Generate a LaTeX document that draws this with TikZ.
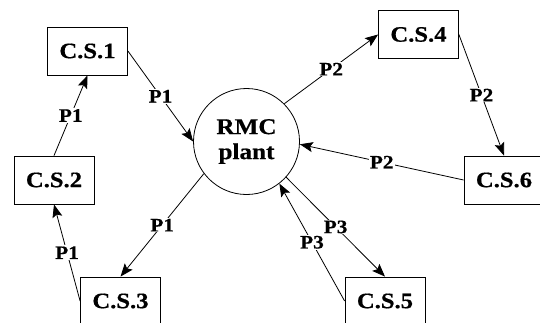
\documentclass[tikz,border=0pt]{standalone}
\usepackage{fontspec}
\setmainfont{Liberation Serif}
\newfontfamily\widefont[FakeStretch=1.12,FakeBold=0.6]{Liberation Serif}
\usetikzlibrary{arrows.meta}
\begin{document}
\begin{tikzpicture}[x=1pt,y=-1pt,
  station/.style={draw,line width=0.8pt,minimum width=80pt,minimum height=48pt,
    inner sep=0pt,font=\widefont\fontsize{22}{24}\selectfont\bfseries},
  plant/.style={draw,circle,line width=0.8pt,minimum size=106pt,inner sep=0pt,
    align=center,font=\widefont\fontsize{22.5}{25}\selectfont\bfseries},
  flow/.style={line width=0.8pt,-{Stealth[length=13pt,width=10pt,inset=2.5pt]}},
  tag/.style={fill=white,inner sep=1pt,font=\widefont\fontsize{19}{20}\selectfont\bfseries}]
\useasboundingbox (0,0) rectangle (540,322);
% plant and concrete sites
\node[plant] (rmc) at (246.5,141.5) {RMC\\plant};
\node[station] (cs1) at (87.5,51) {C.S.1};
\node[station] (cs2) at (54,180) {C.S.2};
\node[station] (cs3) at (120.5,301) {C.S.3};
\node[station] (cs4) at (418.5,34.5) {C.S.4};
\node[station] (cs5) at (385,301) {C.S.5};
\node[station] (cs6) at (504,180) {C.S.6};
% route P1
\draw[flow] (cs2.north) -- node[tag] {P1} (cs1.south);
\draw[flow] (cs1.east) -- node[tag] {P1} (rmc.180);
\draw[flow] (rmc.217) -- node[tag] {P1} (cs3.north);
\draw[flow] (cs3.west) -- node[tag] {P1} (cs2.south);
% route P2
\draw[flow] (rmc.45) -- node[tag] {P2} (cs4.west);
\draw[flow] (cs4.east) -- node[tag] {P2} (cs6.north);
\draw[flow] (cs6.west) -- node[tag] {P2} (rmc.-3);
% route P3
\draw[flow] (rmc.-42) -- node[tag] {P3} (cs5.north);
\draw[flow] (cs5.west) -- node[tag] {P3} (rmc.-52);
\end{tikzpicture}
\end{document}
